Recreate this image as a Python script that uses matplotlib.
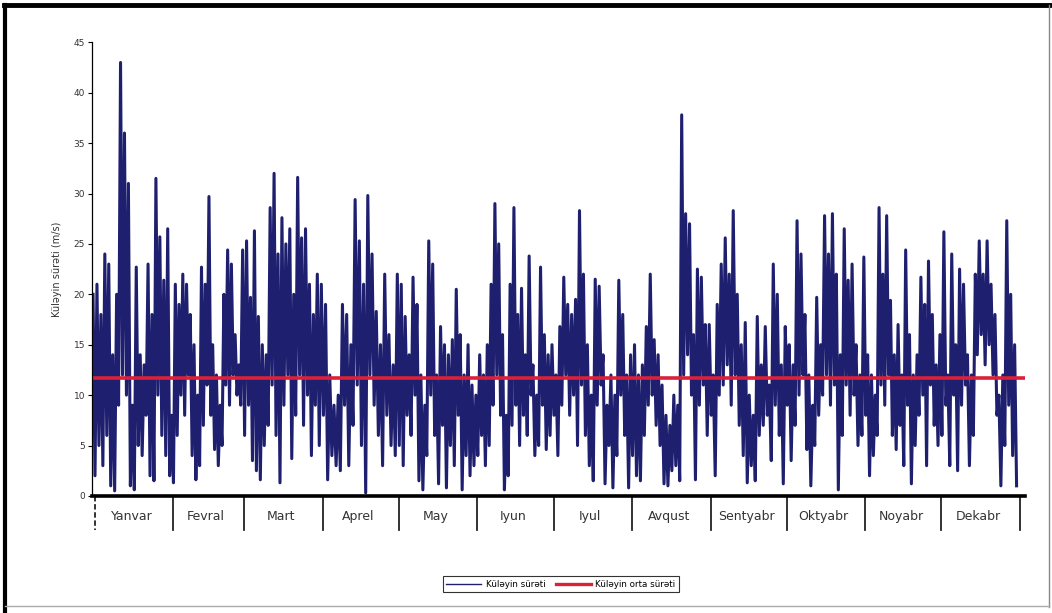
import matplotlib.pyplot as plt
from matplotlib.lines import Line2D
import numpy as np

# wind speed, month by month (alternating highs / lows)
jan = [20, 2, 21, 5, 18, 3, 24, 6, 23, 1, 14, 0.5, 20, 9, 43, 12, 36, 10, 31, 1,
       9, 0.6, 22.7, 5, 14, 4, 13, 8, 23, 2, 18, 1.5, 31.5, 10, 25.7, 6, 21.4, 4, 26.5, 2]
feb = [8, 1.3, 21, 6, 19, 10, 22, 8, 21, 12, 18, 4, 15, 1.6, 10, 3, 22.7, 7, 21, 11,
       29.7, 8, 15, 4.6, 12, 3, 9, 5, 20, 11, 24.4, 9, 23, 12, 16, 10, 13, 9]
mar = [24.4, 6, 25.3, 9, 19.7, 3.5, 26.3, 2.5, 17.8, 1.6, 15, 5, 14, 7, 28.6, 11, 32, 6, 24, 1.3,
       27.6, 9, 25, 12, 26.5, 3.7, 20, 8, 31.6, 12, 25.6, 7, 26.5, 10, 21, 4, 18, 9, 22, 5]
apr = [21, 8, 19, 1.6, 12, 4, 9, 3, 10, 2.5, 19, 9, 18, 3, 15, 7, 29.4, 11, 25.3, 5,
       21, 0.3, 29.8, 12, 24, 9, 18.3, 6, 15, 3, 22, 8, 16, 5, 13, 4]
may = [22, 5, 21, 3, 17.8, 8, 14, 6, 21.7, 10, 19, 1.5, 12, 0.6, 9, 4, 25.3, 10, 23, 6,
       12, 1.2, 16.8, 7, 15, 0.8, 14, 5, 15.5, 3, 20.5, 8, 16, 0.6, 12, 4, 15, 2, 11, 3]
jun = [10, 4, 14, 6, 12, 3, 15, 5, 21, 9, 29, 12, 25, 8, 16, 0.6, 8, 2, 21, 7,
       28.6, 9, 18, 5, 20.6, 8, 14, 6, 23.8, 10, 13, 4, 10, 5, 22.7, 9, 16, 4.6, 14, 6]
jul = [15, 8, 12, 4, 16.8, 9, 21.7, 12, 19, 8, 18, 10, 19.5, 5, 28.3, 11, 22, 6, 15, 3,
       10, 1.5, 21.5, 9, 20.8, 11, 14, 1.2, 9, 5, 12, 0.8, 10, 4, 21.4, 10, 18, 6, 12, 0.8]
aug = [14, 4, 15, 2, 12, 1.5, 13, 6, 16.8, 9, 22, 10, 15.5, 7, 14, 5, 11, 1.2, 8, 1,
       7, 2.5, 10, 3, 9, 1.5, 37.8, 12, 28, 14, 27, 10, 16, 1.6, 22.5, 9, 21.7, 11, 17, 6]
sep = [17, 8, 12, 2, 19, 10, 23, 11, 25.6, 13, 22, 9, 28.3, 12, 20, 7, 15, 4, 17.2, 1.3,
       10, 3, 8, 1.5, 17.8, 6, 13, 7, 16.8, 8, 11, 3.5, 23, 9, 20, 6, 13, 1.2]
okt = [16.8, 9, 15, 3.5, 13, 7, 27.3, 10, 24, 12, 18, 4.6, 12, 1, 9, 5, 19.7, 8, 15, 10,
       27.8, 12, 24, 9, 28, 11, 22, 0.6, 14, 6, 26.5, 11, 21.4, 8, 23, 10, 15, 5, 12, 6]
nov = [23.7, 8, 14, 2, 12, 4, 10, 6, 28.6, 11, 22, 9, 27.8, 12, 19.4, 6, 14, 4.6, 17, 7,
       12, 3, 24.4, 9, 16, 1.2, 12, 5, 14, 8, 21.7, 10, 19, 3, 23.3, 11, 18, 7, 13, 5]
dek = [16, 6, 26.2, 9, 12, 3, 24, 10, 15, 2.5, 22.5, 9, 21, 11, 14, 3, 12, 6, 22, 14,
       25.3, 16, 22, 13, 25.3, 15, 21, 12, 18, 8, 10, 1, 12, 5, 27.3, 9, 20, 4, 15, 1]

months = ["Yanvar", "Fevral", "Mart", "Aprel", "May", "Iyun", "Iyul", "Avqust",
          "Sentyabr", "Oktyabr", "Noyabr", "Dekabr"]
month_days = [31, 28, 31, 30, 31, 30, 31, 31, 30, 31, 30, 31]
mean_speed = 11.7

series = [jan, feb, mar, apr, may, jun, jul, aug, sep, okt, nov, dek]

# spread each month's values over its days
starts = np.concatenate([[0], np.cumsum(month_days)])
xs, ys = [], []
for m, vals in enumerate(series):
    n = len(vals)
    xs.extend(starts[m] + (np.arange(n) + 0.5) * month_days[m] / n)
    ys.extend(vals)

fig = plt.figure(figsize=(10.52, 6.13), dpi=100)
ax = fig.add_axes([0.0875, 0.191, 0.887, 0.74])

navy = "#1f1f70"
red = "#d9213a"
ax.plot(xs, ys, color=navy, lw=2.2)
ax.axhline(mean_speed, color=red, lw=2.6)

ax.set_xlim(0, 368)
ax.set_ylim(0, 45)
ax.set_yticks(range(0, 46, 5))
ax.tick_params(axis="y", labelsize=6.5, length=3, width=0.8, pad=2, labelcolor="#333333")
ax.set_xticks([])
for s in ["top", "right"]:
    ax.spines[s].set_visible(False)
ax.spines["bottom"].set_linewidth(2.6)
ax.spines["left"].set_linewidth(0.9)
ax.set_ylabel("Küləyin sürəti (m/s)", fontsize=7, color="#333333", labelpad=8)

# month separators and names below the axis
trans = ax.get_xaxis_transform()
for i, d in enumerate(starts):
    ls = (0, (3, 1.5)) if i == 0 else "-"
    ax.plot([d + 1, d + 1], [0, -0.075], transform=trans, color="#222222",
            lw=1.3, ls=ls, clip_on=False)
for m, name in enumerate(months):
    ax.text(starts[m] + month_days[m] / 2, -0.046, name, transform=trans,
            ha="center", va="center", fontsize=9, color="#333333")

handles = [Line2D([], [], color=navy, lw=1),
           Line2D([], [], color=red, lw=2.4)]
leg = fig.legend(handles, ["Küləyin sürəti", "Küləyin orta sürəti"], loc="center",
                 bbox_to_anchor=(0.533, 0.047), ncol=2, fontsize=6.3, frameon=True,
                 fancybox=False, edgecolor="black", handlelength=4, columnspacing=1.2,
                 borderpad=0.4, handletextpad=0.5)
leg.get_frame().set_linewidth(0.8)

# outer frame of the picture
fig.add_artist(Line2D([0.004, 1], [0.992, 0.992], color="black", lw=3.5, transform=fig.transFigure))
fig.add_artist(Line2D([0.005, 0.005], [0, 0.992], color="black", lw=3, transform=fig.transFigure))
fig.add_artist(Line2D([0.997, 0.997], [0.01, 0.992], color="#888888", lw=1, transform=fig.transFigure))
fig.add_artist(Line2D([0.005, 0.997], [0.011, 0.011], color="#aaaaaa", lw=1, transform=fig.transFigure))

fig.savefig("out.png", dpi=100)
